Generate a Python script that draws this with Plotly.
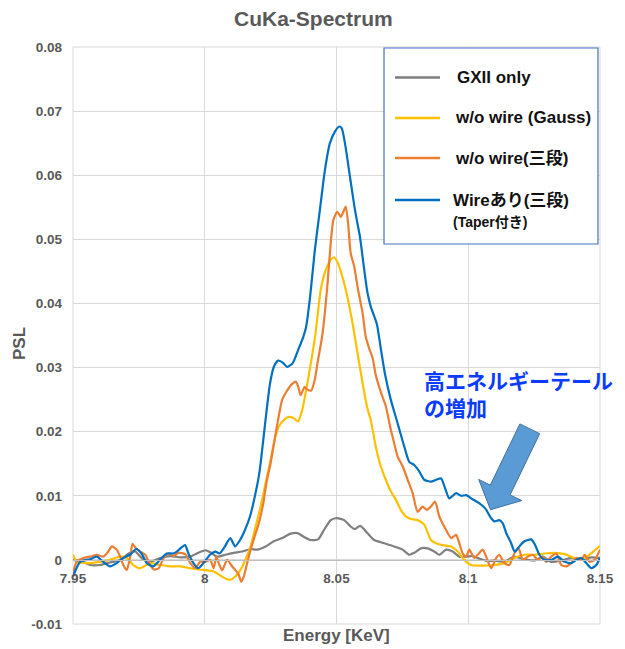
import plotly.graph_objects as go

# ---------------- data ----------------
series_names = ["GXII only", "w/o wire (Gauss)", "w/o wire(三段)", "Wireあり(三段)"]
series_colors = ["#7F7F7F", "#FFC000", "#ED7D31", "#0070C0"]

gray_e = [7.950, 7.953, 7.9565, 7.9603, 7.9641, 7.968, 7.9711, 7.9736, 7.9761, 7.9793, 7.9831, 7.9869,
          7.9907, 7.9945, 7.997, 8.0002, 8.0021, 8.0047, 8.0078, 8.011, 8.0142, 8.0174, 8.0199, 8.0231,
          8.0262, 8.0294, 8.0326, 8.0351, 8.0376, 8.0402, 8.043, 8.0453, 8.0478, 8.0497, 8.0516, 8.0529,
          8.0554, 8.0569, 8.059, 8.0617, 8.0643, 8.0681, 8.0719, 8.0751, 8.0776, 8.0795, 8.082, 8.0846,
          8.0871, 8.089, 8.0916, 8.0941, 8.0966, 8.0992, 8.1017, 8.1042, 8.1074, 8.1099, 8.1137, 8.1175,
          8.1213, 8.1251, 8.1283, 8.1315, 8.1353, 8.1391, 8.1429, 8.1467, 8.150]
gray_v = [0.0000, -0.0002, -0.0008, -0.0008, -0.0004, 0.0000, 0.0010, 0.0013, 0.0003, -0.0003, 0.0003, 0.0006,
          0.0004, 0.0005, 0.0010, 0.0015, 0.0012, 0.0005, 0.0008, 0.0011, 0.0013, 0.0017, 0.0016, 0.0021,
          0.0029, 0.0034, 0.0041, 0.0042, 0.0036, 0.0031, 0.0032, 0.0047, 0.0062, 0.0065, 0.0064, 0.0062,
          0.0052, 0.0048, 0.0053, 0.0042, 0.0031, 0.0026, 0.0021, 0.0016, 0.0008, 0.0011, 0.0018, 0.0018,
          0.0013, 0.0008, 0.0016, 0.0013, 0.0005, 0.0005, 0.0006, 0.0002, -0.0002, -0.0001, -0.0003, 0.0005,
          0.0001, -0.0001, 0.0005, -0.0003, -0.0001, 0.0003, 0.0000, 0.0004, 0.0003]

gauss_e = [7.950, 7.9514, 7.9552, 7.9603, 7.9641, 7.9679, 7.9704, 7.9729, 7.9755, 7.9793, 7.9831, 7.9869,
           7.9907, 7.9945, 7.9983, 8.0034, 8.0047, 8.0078, 8.0097, 8.0116, 8.0135, 8.0154, 8.0174, 8.0193,
           8.0212, 8.0231, 8.025, 8.0265, 8.0281, 8.030, 8.0319, 8.0338, 8.0354, 8.037, 8.0387, 8.0404,
           8.0421, 8.044, 8.0459, 8.0478, 8.0491, 8.0503, 8.0522, 8.0541, 8.0561, 8.058, 8.0599, 8.0615,
           8.063, 8.0649, 8.0668, 8.0687, 8.0706, 8.0725, 8.0744, 8.0763, 8.0782, 8.0808, 8.0833, 8.0858,
           8.0878, 8.0903, 8.0935, 8.096, 8.0985, 8.1011, 8.1036, 8.1061, 8.1099, 8.1137, 8.1175, 8.1213,
           8.1251, 8.1289, 8.1327, 8.1366, 8.1404, 8.1442, 8.1474, 8.150]
gauss_v = [0.0008, -0.0003, -0.0005, -0.0003, 0.0000, 0.0005, 0.0003, -0.0008, -0.0013, -0.0005, -0.0008, -0.0010,
           -0.0010, -0.0013, -0.0015, -0.0018, -0.0021, -0.0029, -0.0031, -0.0026, -0.0016, 0.0000, 0.0021, 0.0052,
           0.0083, 0.0120, 0.0156, 0.0187, 0.0208, 0.0218, 0.0223, 0.0221, 0.0216, 0.0234, 0.0270, 0.0310,
           0.0355, 0.0421, 0.0452, 0.0468, 0.0472, 0.0465, 0.0442, 0.0411, 0.0369, 0.0322, 0.0276, 0.0240,
           0.0218, 0.0177, 0.0146, 0.0125, 0.0107, 0.0094, 0.0078, 0.0068, 0.0064, 0.0062, 0.0055, 0.0031,
           0.0026, 0.0023, 0.0021, 0.0013, 0.0000, -0.0008, -0.0009, -0.0009, -0.0008, -0.0005, 0.0003, 0.0008,
           0.0008, 0.0010, 0.0011, 0.0009, 0.0003, 0.0003, 0.0013, 0.0022]

sandan_e = [7.950, 7.9514, 7.9539, 7.9565, 7.959, 7.9615, 7.9634, 7.9647, 7.9666, 7.9679, 7.9691, 7.9704,
            7.9717, 7.9726, 7.9739, 7.9755, 7.9774, 7.9793, 7.9808, 7.9825, 7.9844, 7.9863, 7.9882, 7.9901,
            7.9926, 7.9945, 7.9964, 7.9983, 8.0002, 8.0021, 8.0034, 8.0044, 8.0053, 8.0066, 8.0085, 8.0104,
            8.0116, 8.0129, 8.0138, 8.0148, 8.0161, 8.0174, 8.0189, 8.0205, 8.0222, 8.0234, 8.025, 8.0265,
            8.0278, 8.0294, 8.0311, 8.0328, 8.0345, 8.0355, 8.0364, 8.0379, 8.0389, 8.0404, 8.0417, 8.043,
            8.0446, 8.0465, 8.0478, 8.0488, 8.0503, 8.0516, 8.0524, 8.0535, 8.0544, 8.0554, 8.0567, 8.0582,
            8.0599, 8.0611, 8.0624, 8.0637, 8.0648, 8.0668, 8.0687, 8.0705, 8.0713, 8.0732, 8.0751, 8.077,
            8.0789, 8.0808, 8.0827, 8.0843, 8.0858, 8.0874, 8.089, 8.0909, 8.0935, 8.0954, 8.0966, 8.0979,
            8.0992, 8.1004, 8.1023, 8.1036, 8.1055, 8.1068, 8.1087, 8.1106, 8.1118, 8.1137, 8.1156, 8.1175,
            8.1191, 8.1207, 8.1226, 8.1245, 8.1264, 8.1283, 8.1296, 8.1315, 8.1334, 8.1353, 8.1372, 8.1391,
            8.141, 8.1429, 8.1442, 8.1461, 8.148, 8.150]
sandan_v = [-0.0021, -0.0003, 0.0003, 0.0005, 0.0008, 0.0005, 0.0013, 0.0021, 0.0016, 0.0005, -0.0008, -0.0016,
            0.0005, 0.0025, 0.0018, 0.0013, 0.0008, -0.0008, -0.0015, -0.0013, 0.0003, 0.0010, 0.0006, 0.0011,
            0.0009, -0.0005, -0.0013, -0.0003, -0.0003, 0.0000, -0.0013, 0.0005, -0.0005, -0.0016, 0.0000, -0.0010,
            -0.0016, -0.0023, -0.0034, -0.0026, -0.0005, 0.0016, 0.0036, 0.0057, 0.0088, 0.0120, 0.0151, 0.0187,
            0.0218, 0.0250, 0.0263, 0.0273, 0.0278, 0.0270, 0.0257, 0.0270, 0.0266, 0.0264, 0.0280, 0.0312,
            0.0350, 0.0426, 0.0494, 0.0530, 0.0543, 0.0535, 0.0541, 0.0551, 0.0525, 0.0478, 0.0458, 0.0421,
            0.0385, 0.0348, 0.0330, 0.0315, 0.0290, 0.0262, 0.0240, 0.0205, 0.0192, 0.0161, 0.0146, 0.0125,
            0.0104, 0.0075, 0.0083, 0.0078, 0.0083, 0.0091, 0.0068, 0.0052, 0.0034, 0.0039, 0.0026, 0.0010,
            0.0005, 0.0016, 0.0003, 0.0008, 0.0016, 0.0005, -0.0013, 0.0003, 0.0008, -0.0005, -0.0008, 0.0010,
            0.0018, 0.0000, 0.0005, 0.0008, 0.0000, 0.0005, -0.0003, 0.0005, 0.0010, -0.0008, -0.0010, -0.0005,
            0.0003, 0.0000, 0.0008, -0.0003, 0.0000, 0.0016]

wire_e = [7.950, 7.9527, 7.9565, 7.959, 7.9615, 7.964, 7.9666, 7.969, 7.9716, 7.974, 7.976, 7.978,
          7.9805, 7.983, 7.9856, 7.988, 7.9894, 7.9925, 7.9938, 7.9957, 7.9975, 7.9995, 8.002, 8.004,
          8.0056, 8.0075, 8.0097, 8.0115, 8.0134, 8.0153, 8.0172, 8.019, 8.0207, 8.0222, 8.0235, 8.0248,
          8.0263, 8.0279, 8.0298, 8.0313, 8.0334, 8.0355, 8.0374, 8.0384, 8.040, 8.0418, 8.0437, 8.0456,
          8.0475, 8.0494, 8.051, 8.052, 8.0532, 8.0551, 8.057, 8.0589, 8.0602, 8.0617, 8.063, 8.0653,
          8.0668, 8.0684, 8.0706, 8.0732, 8.0757, 8.0776, 8.0795, 8.0814, 8.0833, 8.0859, 8.0878, 8.0897,
          8.0912, 8.0928, 8.0954, 8.0973, 8.0992, 8.1015, 8.104, 8.1065, 8.1087, 8.110, 8.1118, 8.1131,
          8.1144, 8.1163, 8.1176, 8.1194, 8.1213, 8.1239, 8.1254, 8.127, 8.1289, 8.1315, 8.134, 8.1366,
          8.1391, 8.141, 8.1429, 8.1448, 8.1467, 8.1486, 8.150]
wire_v = [-0.0026, -0.0003, 0.0001, 0.0005, -0.0003, -0.0010, -0.0005, 0.0003, 0.0008, 0.0017, 0.0010, -0.0005,
          -0.0010, 0.0000, 0.0010, 0.0010, 0.0013, 0.0023, 0.0010, -0.0005, -0.0013, -0.0005, 0.0008, 0.0013,
          0.0010, 0.0020, 0.0034, 0.0021, 0.0031, 0.0047, 0.0068, 0.0099, 0.0135, 0.0187, 0.0234, 0.0276,
          0.0302, 0.0311, 0.0307, 0.0301, 0.0307, 0.0328, 0.0348, 0.0362, 0.0411, 0.0484, 0.0546, 0.0608,
          0.0650, 0.0668, 0.0676, 0.0673, 0.0650, 0.0598, 0.0546, 0.0504, 0.0463, 0.0418, 0.0395, 0.0368,
          0.0330, 0.0290, 0.0250, 0.0213, 0.0177, 0.0153, 0.0148, 0.0138, 0.0125, 0.0122, 0.0125, 0.0127,
          0.0112, 0.0096, 0.0104, 0.0100, 0.0101, 0.0095, 0.0089, 0.0080, 0.0065, 0.0060, 0.0062, 0.0057,
          0.0042, 0.0026, 0.0013, 0.0021, 0.0029, 0.0032, 0.0023, 0.0008, 0.0000, 0.0000, 0.0005, -0.0003,
          -0.0005, 0.0000, 0.0003, -0.0005, -0.0013, -0.0008, 0.0003]

x_tickvals = [7.95, 8.0, 8.05, 8.1, 8.15]
x_ticktext = ["7.95", "8", "8.05", "8.1", "8.15"]
y_tickvals = [-0.01, 0.0, 0.01, 0.02, 0.03, 0.04, 0.05, 0.06, 0.07, 0.08]
y_ticktext = ["-0.01", "0", "0.01", "0.02", "0.03", "0.04", "0.05", "0.06", "0.07", "0.08"]

title_text = "CuKa-Spectrum"
x_title = "Energy [KeV]"
y_title = "PSL"
note_text = "高エネルギーテール<br>の増加"
legend_sub = "(Taper付き)"

# ---------------- layout geometry (screen pixels) ----------------
OFF = 8                      # page body margin
SCR_W, SCR_H = 625, 649
W, H = SCR_W - OFF, SCR_H - OFF
L, R, T, B = 73, 600, 47, 624  # plot area on screen


def px(x):
    return (x - L) / (R - L)


def py(y):
    return (B - y) / (B - T)


FONT = "Liberation Sans, Arial, Noto Sans CJK JP, sans-serif"
AX_COL = "#595959"
GRID = "#D9D9D9"

fig = go.Figure()
all_e = [gray_e, gauss_e, sandan_e, wire_e]
all_v = [gray_v, gauss_v, sandan_v, wire_v]
for name, col, e, v in zip(series_names, series_colors, all_e, all_v):
    fig.add_trace(go.Scatter(x=e, y=v, mode="lines", name=name, showlegend=False,
                             line=dict(color=col, width=2.2, shape="spline", smoothing=0.6)))

fig.update_layout(
    width=W, height=H,
    margin=dict(l=L - OFF, r=SCR_W - R, t=T - OFF, b=SCR_H - B),
    paper_bgcolor="white", plot_bgcolor="white",
    font=dict(family=FONT, color=AX_COL),
    xaxis=dict(range=[7.95, 8.15], tickvals=x_tickvals, ticktext=x_ticktext,
               showgrid=True, gridcolor=GRID, gridwidth=1, zeroline=False,
               showline=True, linecolor="#BFBFBF", linewidth=1,
               anchor="free", position=1 / 9, ticks="", ticklabelstandoff=6,
               tickfont=dict(size=13.5, color=AX_COL, family=FONT, weight="bold")),
    yaxis=dict(range=[-0.01, 0.08], tickvals=y_tickvals, ticktext=y_ticktext,
               showgrid=True, gridcolor=GRID, gridwidth=1, zeroline=False, showline=False,
               ticks="", ticklabelstandoff=10,
               tickfont=dict(size=13.5, color=AX_COL, family=FONT, weight="bold")),
)

shapes = [
    dict(type="rect", xref="paper", yref="paper", x0=0, x1=1, y0=0, y1=1,
         line=dict(color=GRID, width=1), layer="below"),
]

# block arrow (screen-pixel polygon -> paper coords)
arrow_pts = [(539.7, 433.7), (510.1, 494.9), (521.7, 500.6), (490.5, 509.7),
             (478.7, 479.4), (490.3, 485.1), (519.9, 423.9)]
path = "M " + " L ".join(f"{px(a):.5f},{py(b):.5f}" for a, b in arrow_pts) + " Z"
shapes.append(dict(type="path", xref="paper", yref="paper", path=path,
                   fillcolor="#5B9BD5", line=dict(color="#41719C", width=1), layer="above"))

# legend box
shapes.append(dict(type="rect", xref="paper", yref="paper", x0=px(384), x1=px(598), y0=py(244), y1=py(48),
                   fillcolor="white", line=dict(color="#4472C4", width=1.2), layer="above"))
leg_y = [77.5, 118, 158, 200]
for col, yy in zip(series_colors, leg_y):
    shapes.append(dict(type="line", xref="paper", yref="paper", x0=px(395), x1=px(440), y0=py(yy), y1=py(yy),
                       line=dict(color=col, width=2.5), layer="above"))
fig.update_layout(shapes=shapes)

ann = []
leg_x = [455, 453, 453, 451]
for name, yy, xx in zip(series_names, leg_y, leg_x):
    ann.append(dict(xref="paper", yref="paper", x=px(xx), y=py(yy), xanchor="left", yanchor="middle",
                    text=name, showarrow=False,
                    font=dict(size=17, color="#111111", family=FONT, weight="bold")))
ann.append(dict(xref="paper", yref="paper", x=px(451), y=py(222), xanchor="left", yanchor="middle",
                text=legend_sub, showarrow=False,
                font=dict(size=14, color="#111111", family=FONT, weight="bold")))
# title
ann.append(dict(xref="paper", yref="paper", x=px(313), y=py(19), xanchor="center", yanchor="middle",
                text=title_text, showarrow=False,
                font=dict(size=21, color=AX_COL, family=FONT, weight="bold")))
# axis titles
ann.append(dict(xref="paper", yref="paper", x=0.5, y=py(635), xanchor="center", yanchor="middle",
                text=x_title, showarrow=False,
                font=dict(size=17, color=AX_COL, family=FONT, weight="bold")))
ann.append(dict(xref="paper", yref="paper", x=px(19), y=py(344), xanchor="center", yanchor="middle",
                text=y_title, showarrow=False, textangle=-90,
                font=dict(size=17, color=AX_COL, family=FONT, weight="bold")))
# note
ann.append(dict(xref="paper", yref="paper", x=px(422), y=py(393), xanchor="left", yanchor="middle",
                text=note_text, showarrow=False, align="left",
                font=dict(size=21, color="#0A3CFF", family="Noto Sans CJK JP, sans-serif", weight="bold")))
fig.update_layout(annotations=ann)

fig.write_html("out.html")
